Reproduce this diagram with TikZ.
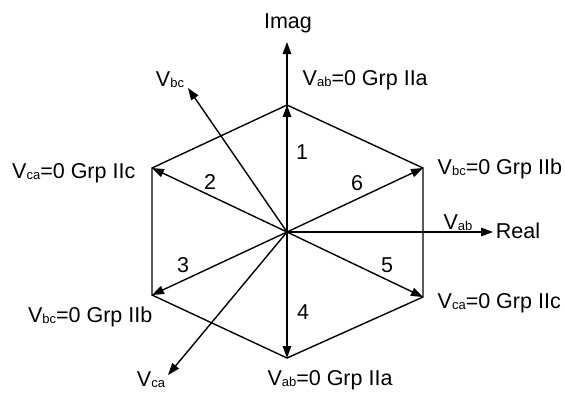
\documentclass[tikz,border=0pt]{standalone}
\usepackage{fontspec}
\setmainfont{Liberation Sans}
\usetikzlibrary{arrows.meta}
\newcommand\vsub[1]{V\raisebox{-0.06em}{\fontsize{13}{13}\selectfont #1}}
\begin{document}
\begin{tikzpicture}[x=1pt,y=-1pt,
  line width=1.4pt,
  arr/.style={-{Triangle[length=12pt,width=8.5pt]}},
  lbl/.style={font=\fontsize{21.5}{25}\selectfont, inner sep=0pt}]
\useasboundingbox (0,0) rectangle (565,392);
\fill[white] (0,0) rectangle (565,392);
\coordinate (O) at (287,232);
\coordinate (T) at (287,105);
\coordinate (UR) at (423,168);
\coordinate (LR) at (423,297);
\coordinate (B) at (287,358);
\coordinate (LL) at (152,295);
\coordinate (UL) at (152,168);
\coordinate (IM) at (287,42);
\coordinate (RE) at (493,232);
\coordinate (VB) at (188,88);
\coordinate (VC) at (168,375);
% hexagon
\draw (T) -- (UR) -- (LR) -- (B) -- (LL) -- (UL) -- cycle;
% arrows
\foreach \p in {T,UR,LR,B,LL,UL,IM,RE,VB,VC}
  \draw[arr] (O) -- (\p);
% labels
\node[lbl] (imag) at (288,23) {Imag};
\node[lbl] (real) at (518,231) {Real};
\node[lbl] (vab) at (458,223) {\vsub{ab}};
\node[lbl] (vbc) at (170,80) {\vsub{bc}};
\node[lbl] (vca) at (151,380) {\vsub{ca}};
\node[lbl,anchor=west] (lt) at (302,80) {\vsub{ab}=0 Grp IIa};
\node[lbl,anchor=west] (lur) at (437,169) {\vsub{bc}=0 Grp IIb};
\node[lbl,anchor=west] (llr) at (437,303) {\vsub{ca}=0 Grp IIc};
\node[lbl] (lb) at (330,380) {\vsub{ab}=0 Grp IIa};
\node[lbl,anchor=east] (lll) at (153,317) {\vsub{bc}=0 Grp IIb};
\node[lbl,anchor=east] (lul) at (136,173) {\vsub{ca}=0 Grp IIc};
\node[lbl] (n1) at (302,152) {1};
\node[lbl] (n2) at (210,182) {2};
\node[lbl] (n3) at (183,265) {3};
\node[lbl] (n4) at (303,312) {4};
\node[lbl] (n5) at (387,265) {5};
\node[lbl] (n6) at (357,183) {6};
\end{tikzpicture}
\end{document}
